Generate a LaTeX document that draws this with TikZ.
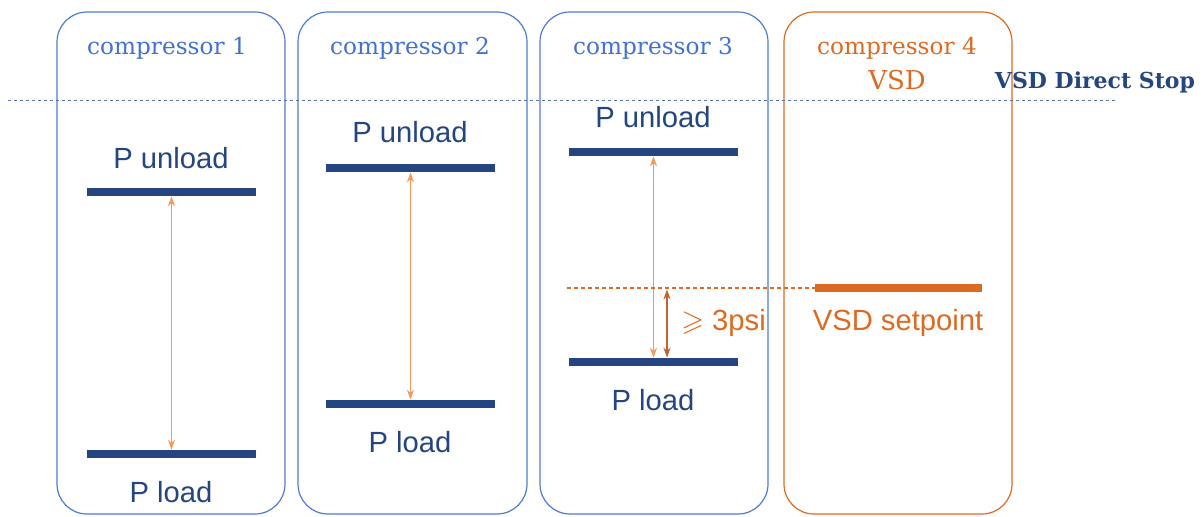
\documentclass[tikz,border=0pt]{standalone}
\usepackage{amssymb}
\usepackage{fontspec}
\setmainfont{Liberation Sans}
\newfontfamily\headfont{DejaVu Serif}
\usetikzlibrary{arrows.meta}

\definecolor{boxblue}{HTML}{4F7BD3}
\definecolor{headblue}{HTML}{4271CF}
\definecolor{navy}{HTML}{24457F}
\definecolor{vsdorange}{HTML}{DC6A22}
\definecolor{lightorange}{HTML}{F59A5C}
\definecolor{darkorange}{HTML}{C2622C}

\tikzset{
  unitbox/.style={line width=0.6pt, rounded corners=15pt},
  head/.style={font=\headfont\fontsize{11.6}{14}\selectfont, inner sep=0pt},
  plabel/.style={font=\fontsize{14.6}{17}\selectfont, text=navy, inner sep=0pt},
  bar/.style={fill=navy, minimum width=84.5pt, minimum height=4pt, inner sep=0pt},
  span/.style={{Stealth[length=5pt,width=3.6pt]}-{Stealth[length=5pt,width=3.6pt]}, line width=0.65pt, draw=lightorange},
}

\begin{document}
\begin{tikzpicture}[x=0.5pt,y=-0.5pt]
  \useasboundingbox (0,0) rectangle (1204,516);

  % compressor boxes
  \draw[unitbox, draw=boxblue] (57,12) rectangle (285,514);
  \draw[unitbox, draw=boxblue] (298,12) rectangle (527,514);
  \draw[unitbox, draw=boxblue] (540,12) rectangle (768,514);
  \draw[unitbox, draw=vsdorange] (784,12) rectangle (1012,514);

  \node[head, text=headblue] (h1) at (167,48) {compressor 1};
  \node[head, text=headblue] (h2) at (410,48) {compressor 2};
  \node[head, text=headblue] (h3) at (653,48) {compressor 3};
  \node[head, text=vsdorange] (h4) at (897,48) {compressor 4};
  \node[head, text=vsdorange, font=\headfont\fontsize{13}{15}\selectfont] (h4b) at (897,80) {VSD};

  % VSD direct stop level
  \coordinate (stopL) at (8,100);
  \coordinate (stopR) at (1115,100);
  \draw[navy!75!white, line width=0.5pt, dash pattern=on 1.5pt off 1.5pt] (stopL) -- (stopR);
  \node[head, text=navy, font=\headfont\bfseries\fontsize{11}{13}\selectfont] (stop) at (1095,82) {VSD Direct Stop};

  % compressor 1
  \node[plabel] (tu1) at (171,158) {P unload};
  \node[bar] (u1) at (171.5,192) {};
  \node[bar] (l1) at (171.5,454) {};
  \node[plabel] (tl1) at (171,492) {P load};
  \draw[span] (u1.south) -- (l1.north);

  % compressor 2
  \node[plabel] (tu2) at (410,132) {P unload};
  \node[bar] (u2) at (410.5,168) {};
  \node[bar] (l2) at (410.5,404) {};
  \node[plabel] (tl2) at (410,442) {P load};
  \draw[span] (u2.south) -- (l2.north);

  % compressor 3
  \node[plabel] (tu3) at (653,117) {P unload};
  \node[bar] (u3) at (653.5,152) {};
  \node[bar] (l3) at (653.5,362) {};
  \node[plabel] (tl3) at (653,400) {P load};
  \draw[span] (u3.south) -- (l3.north);

  % compressor 4 (VSD)
  \node[bar, fill=vsdorange, minimum width=83.5pt] (sp) at (898.5,288) {};
  \node[plabel, text=vsdorange] (tsp) at (898,323) {VSD setpoint};
  \coordinate (spL) at (567,288);
  \draw[vsdorange, line width=1.2pt, dash pattern=on 2pt off 1.5pt] (spL) -- (sp.west);

  % minimum band
  \coordinate (bandT) at (667,289.5);
  \draw[span, draw=darkorange] (bandT) -- (bandT |- l3.north);
  \node[plabel, text=vsdorange, anchor=west] (band) at (681,323) {$\geqslant$ 3psi};
\end{tikzpicture}
\end{document}
